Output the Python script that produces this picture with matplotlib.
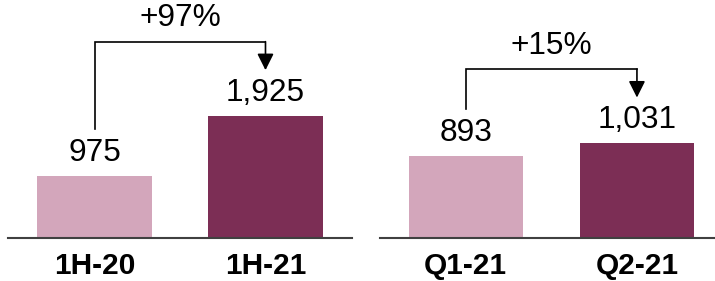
import matplotlib.pyplot as plt

plt.rcParams['font.family'] = ['Liberation Sans', 'DejaVu Sans']

# data
left_labels = ['1H-20', '1H-21']
left_values = [975, 1925]
left_change = '+97%'

right_labels = ['Q1-21', 'Q2-21']
right_values = [893, 1031]
right_change = '+15%'

colors = ['#D3A6BB', '#7C2E55']

W, H = 715, 281
fig = plt.figure(figsize=(W / 100, H / 100), dpi=100)


def panel(rect_px, xlim, ymax, labels, values, change, bar_w):
    x0, x1 = rect_px
    base = H - 237.7
    ax = fig.add_axes([x0 / W, base / H, (x1 - x0) / W, (H - base) / H])
    ax.set_xlim(*xlim)
    ax.set_ylim(0, ymax)
    ax.axis('off')
    ax.axhline(0, color='#404040', lw=1.5, clip_on=False)
    xs = list(range(len(values)))
    ax.bar(xs, values, width=bar_w, color=colors)

    per_px = ymax / (H - base)
    for x, v in zip(xs, values):
        ax.annotate(f'{v:,}', (x, v), xytext=(0, 15), textcoords='offset pixels',
                    ha='center', va='baseline', fontsize=22.8)
    for x, lab in zip(xs, labels):
        ax.annotate(lab, (x, 0), xytext=(0, -36.7), textcoords='offset pixels',
                    ha='center', va='baseline', fontsize=21.5, fontweight='bold')

    # bracket with arrow
    y_start = values[0] + 46.7 * per_px
    y_top = values[1] + 74 * per_px
    y_tip = values[1] + 45.5 * per_px
    ax.plot([xs[0], xs[0], xs[1]], [y_start, y_top, y_top], color='black', lw=1.2,
            solid_joinstyle='miter', clip_on=False)
    ax.annotate('', xy=(xs[1], y_tip), xytext=(xs[1], y_top),
                arrowprops=dict(arrowstyle='-|>,head_length=1.0,head_width=0.5',
                                color='black', lw=1.2, shrinkA=0, shrinkB=0,
                                mutation_scale=10))
    ax.annotate(change, ((xs[0] + xs[1]) / 2, y_top), xytext=(0, 15.3),
                textcoords='offset pixels', ha='center', va='baseline', fontsize=22.8)


panel((8, 352), (-0.506, 1.506), 237.7 / 0.0634, left_labels, left_values, left_change, 0.667)
panel((380, 715), (-0.501, 1.456), 237.7 / 0.0918, right_labels, right_values, right_change, 0.664)

fig.savefig('out.png', dpi=100)
